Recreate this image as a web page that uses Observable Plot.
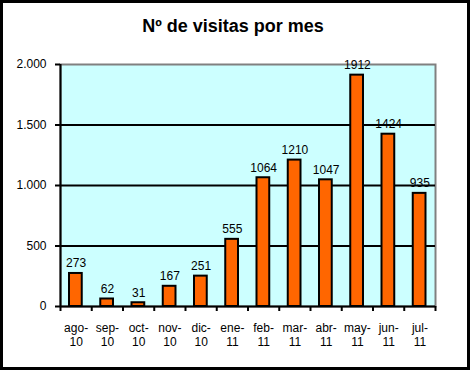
<!DOCTYPE html>
<html>
<head>
<meta charset="utf-8">
<script src="https://cdn.jsdelivr.net/npm/d3@7"></script>
<script src="https://cdn.jsdelivr.net/npm/@observablehq/plot@0.6"></script>
<style>
  html, body { margin: 0; padding: 0; background: white; }
  #wrap { position: relative; width: 470px; height: 370px; }
  #border { position: absolute; left: 0; top: 0; width: 470px; height: 370px; box-sizing: border-box; border: 3px solid black; pointer-events: none; }
  svg { display: block; }
</style>
</head>
<body>
<div id="wrap"><div id="chart"></div><div id="border"></div></div>
<script>
const title = "Nº de visitas por mes";
const months = ["ago-10","sep-10","oct-10","nov-10","dic-10","ene-11","feb-11","mar-11","abr-11","may-11","jun-11","jul-11"];
const visits = [273, 62, 31, 167, 251, 555, 1064, 1210, 1047, 1912, 1424, 935];
const yTicks = [0, 500, 1000, 1500, 2000];
const gridValues = [500, 1000, 1500];

const data = months.map((m, i) => ({i, m, v: visits[i]}));
const es = d3.formatLocale({decimal: ",", thousands: ".", grouping: [3], currency: ["", "€"]});
const fmt = es.format(",");
const boundaries = d3.range(months.length + 1);
const centers = months.map((m, i) => i + 0.5);

const chart = Plot.plot({
  width: 470, height: 370,
  marginLeft: 60, marginRight: 35, marginTop: 64, marginBottom: 64,
  style: {fontFamily: "'Liberation Sans', Arial, sans-serif", fontSize: "12px", background: "white", color: "black"},
  x: {type: "linear", domain: [0, months.length], axis: null},
  y: {domain: [0, 2000], axis: null},
  marks: [
    Plot.frame({fill: "#CCFFFF", stroke: "#808080", strokeWidth: 2}),
    Plot.ruleY(gridValues, {stroke: "black", strokeWidth: 2}),
    Plot.rectY(data, {x1: "i", x2: d => d.i + 1, y: "v", insetLeft: 9, insetRight: 9.5, fill: "#FF6600", stroke: "black", strokeWidth: 2}),
    Plot.text(data, {x: d => d.i + 0.5, y: "v", text: d => String(d.v), lineAnchor: "bottom", dy: -6, fontSize: 12, fill: "black"}),
    Plot.ruleX([0], {stroke: "black", strokeWidth: 2}),
    Plot.ruleY([0], {stroke: "black", strokeWidth: 2}),
    Plot.axisX(boundaries, {tickFormat: () => "", tickSize: 5, strokeWidth: 2, stroke: "black", label: null}),
    Plot.axisX(centers, {tickSize: 0, tickPadding: 16, tickFormat: (d) => months[Math.floor(d)].replace("-", "-\n"), fontSize: 12, lineHeight: 1.15, label: null}),
    Plot.axisY(yTicks, {tickSize: 5, tickPadding: 9, strokeWidth: 2, stroke: "black", tickFormat: fmt, fontSize: 12, label: null}),
    Plot.text([title], {frameAnchor: "top", lineAnchor: "middle", dy: -38, dx: -15, fontSize: 18, fontWeight: "bold", fill: "black"})
  ]
});
document.getElementById("chart").appendChild(chart);
</script>
</body>
</html>
